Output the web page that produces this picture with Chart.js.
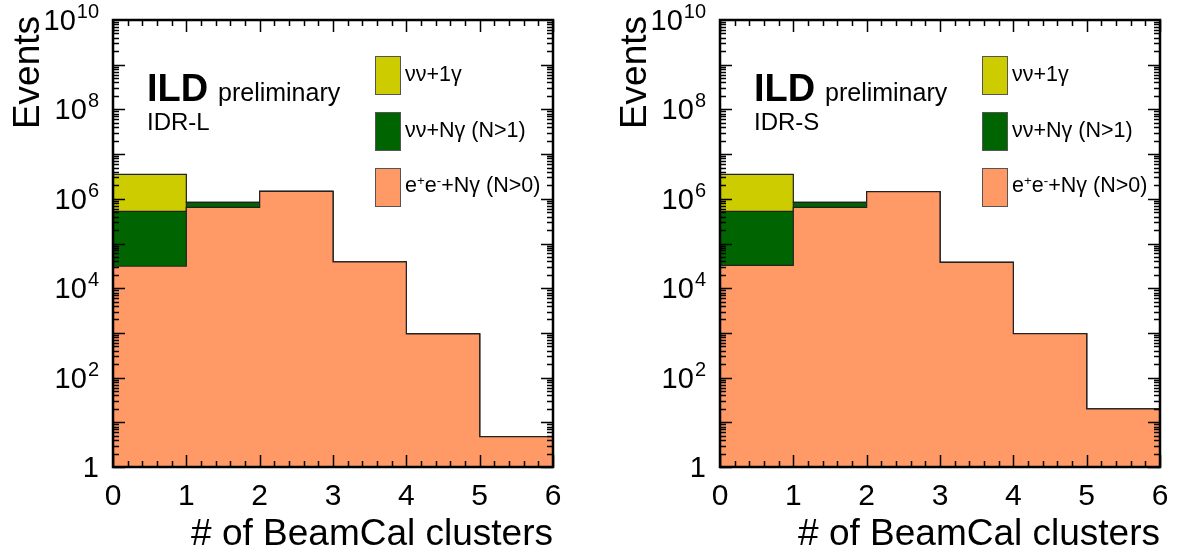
<!DOCTYPE html>
<html>
<head>
<meta charset="utf-8">
<script src="https://cdn.jsdelivr.net/npm/chart.js@4.4.0/dist/chart.umd.min.js"></script>
<style>
  html, body { margin:0; padding:0; background:#fff; }
  body { width:1179px; height:552px; overflow:hidden; position:relative; font-family:"Liberation Sans", Arial, Helvetica, sans-serif; }
  canvas { position:absolute; top:0; }
  .panel { position:absolute; top:0; width:572px; height:552px; pointer-events:none; }
  .t { position:absolute; line-height:1; white-space:nowrap; color:#000; }
  .box { position:absolute; width:26px; height:39px; border:1px solid #555; box-sizing:border-box; }
  sup { font-size:0.62em; vertical-align:0.55em; line-height:0; }
</style>
</head>
<body>
<canvas id="cL" width="572" height="552" style="left:0"></canvas>
<canvas id="cS" width="572" height="552" style="left:607px"></canvas>

<div class="panel" style="left:0">
  <div class="t" style="left:147px;top:69px;font-size:38px;font-weight:bold">ILD</div>
  <div class="t" style="left:218px;top:80px;font-size:25px">preliminary</div>
  <div class="t" style="left:147px;top:110px;font-size:24px">IDR-L</div>
  <div class="box" style="left:375px;top:56px;background:#cccc00"></div>
  <div class="box" style="left:375px;top:112px;background:#006400"></div>
  <div class="box" style="left:375px;top:168px;background:#ff9966"></div>
  <div class="t" style="left:405px;top:64px;font-size:21.5px">νν+1γ</div>
  <div class="t" style="left:405px;top:120px;font-size:21.5px">νν+Nγ (N&gt;1)</div>
  <div class="t" style="left:405px;top:175px;font-size:21.5px">e<sup>+</sup>e<sup>-</sup>+Nγ (N&gt;0)</div>
</div>
<div class="panel" style="left:607px">
  <div class="t" style="left:147px;top:69px;font-size:38px;font-weight:bold">ILD</div>
  <div class="t" style="left:218px;top:80px;font-size:25px">preliminary</div>
  <div class="t" style="left:147px;top:110px;font-size:24px">IDR-S</div>
  <div class="box" style="left:375px;top:56px;background:#cccc00"></div>
  <div class="box" style="left:375px;top:112px;background:#006400"></div>
  <div class="box" style="left:375px;top:168px;background:#ff9966"></div>
  <div class="t" style="left:405px;top:64px;font-size:21.5px">νν+1γ</div>
  <div class="t" style="left:405px;top:120px;font-size:21.5px">νν+Nγ (N&gt;1)</div>
  <div class="t" style="left:405px;top:175px;font-size:21.5px">e<sup>+</sup>e<sup>-</sup>+Nγ (N&gt;0)</div>
</div>

<script>
// ---- data ----
const binEdges = [0, 1, 2, 3, 4, 5, 6];
const xTickLabels = ['0', '1', '2', '3', '4', '5', '6'];
const yTickExponents = [0, 2, 4, 6, 8, 10];
const xTitle = '# of BeamCal clusters';
const yTitle = 'Events';

// IDR-L
const eeNgammaL = [3.1e4, 6.4e5, 1.47e6, 3.9e4, 950, 4.8];
const nnNgammaL = [4.94e5, 1.9e5, 0, 0, 0, 0];
const nn1gammaL = [2.98e6, 0, 0, 0, 0, 0];
// IDR-S
const eeNgammaS = [3.25e4, 6.4e5, 1.44e6, 3.8e4, 960, 20];
const nnNgammaS = [4.93e5, 1.9e5, 0, 0, 0, 0];
const nn1gammaS = [2.98e6, 0, 0, 0, 0, 0];

const FONT = '"Liberation Sans", Arial, Helvetica, sans-serif';
const colYellow = '#cccc00', colGreen = '#006400', colOrange = '#ff9966';

function stepPoints(vals) {
  const pts = vals.map((v, i) => ({ x: binEdges[i], y: v }));
  pts.push({ x: binEdges[binEdges.length - 1], y: vals[vals.length - 1] });
  return pts;
}
function cumulate(a, b) { return a.map((v, i) => v + b[i]); }

const frameTicks = {
  id: 'frameTicks',
  afterDraw(chart) {
    const { ctx, chartArea: a, scales: { x, y } } = chart;
    ctx.save();
    ctx.strokeStyle = '#000';
    ctx.lineWidth = 1.5;
    ctx.beginPath();
    for (let k = 0; k <= 30; k++) {
      const v = k / 5;
      const px = Math.round(x.getPixelForValue(v)) + 0.5;
      const L = (k % 5 === 0) ? 12 : 6;
      ctx.moveTo(px, a.bottom); ctx.lineTo(px, a.bottom - L);
      ctx.moveTo(px, a.top); ctx.lineTo(px, a.top + L);
    }
    for (let e = 0; e < 10; e++) {
      for (let m = 1; m < 10; m++) {
        const py = Math.round(y.getPixelForValue(m * Math.pow(10, e))) + 0.5;
        const L = (m === 1) ? 12 : 6;
        ctx.moveTo(a.left, py); ctx.lineTo(a.left + L, py);
        ctx.moveTo(a.right, py); ctx.lineTo(a.right - L, py);
      }
    }
    ctx.stroke();
    ctx.lineWidth = 2.5;
    ctx.strokeRect(a.left, a.top, a.right - a.left, a.bottom - a.top);

    ctx.fillStyle = '#000';
    ctx.font = '30px ' + FONT;
    ctx.textAlign = 'center';
    ctx.textBaseline = 'top';
    xTickLabels.forEach((lab, i) => {
      ctx.fillText(lab, x.getPixelForValue(binEdges[i]), a.bottom + 15);
    });
    const rightEdge = a.left - 14;
    yTickExponents.forEach(e => {
      const py = y.getPixelForValue(Math.pow(10, e));
      ctx.textBaseline = 'middle';
      ctx.textAlign = 'right';
      ctx.font = '29px ' + FONT;
      if (e === 0) {
        ctx.fillText('1', rightEdge, py + 2);
      } else {
        const sup = String(e);
        ctx.font = '20px ' + FONT;
        const sw = ctx.measureText(sup).width;
        ctx.textAlign = 'left';
        ctx.textBaseline = 'alphabetic';
        ctx.fillText(sup, rightEdge - sw, py - 2);
        ctx.font = '29px ' + FONT;
        ctx.textAlign = 'right';
        ctx.textBaseline = 'middle';
        ctx.fillText('10', rightEdge - sw - 1, py + 2);
      }
    });
    ctx.font = '37px ' + FONT;
    ctx.textAlign = 'right';
    ctx.textBaseline = 'alphabetic';
    ctx.fillText(xTitle, a.right, 545);
    ctx.translate(39, a.top - 4);
    ctx.rotate(-Math.PI / 2);
    ctx.fillText(yTitle, 0, 0);
    ctx.restore();
  }
};

function makeChart(id, ee, nnN, nn1) {
  const cumGreen = cumulate(ee, nnN);
  const cumYellow = cumulate(cumGreen, nn1);
  const common = { showLine: true, stepped: true, pointRadius: 0, borderColor: '#222', borderWidth: 1.2, tension: 0 };
  return new Chart(document.getElementById(id), {
    type: 'line',
    data: {
      datasets: [
        Object.assign({ label: 'e+e-+Nγ (N>0)', data: stepPoints(ee), backgroundColor: colOrange, fill: 'start' }, common),
        Object.assign({ label: 'νν+Nγ (N>1)', data: stepPoints(cumGreen), backgroundColor: colGreen, fill: '-1' }, common),
        Object.assign({ label: 'νν+1γ', data: stepPoints(cumYellow), backgroundColor: colYellow, fill: '-1' }, common)
      ]
    },
    options: {
      responsive: false,
      animation: false,
      devicePixelRatio: 1,
      layout: { padding: { left: 113, right: 19, top: 20, bottom: 85 } },
      plugins: { legend: { display: false }, tooltip: { enabled: false } },
      scales: {
        x: { type: 'linear', min: 0, max: 6, display: false },
        y: { type: 'logarithmic', min: 1, max: 1e10, display: false }
      }
    },
    plugins: [frameTicks]
  });
}

makeChart('cL', eeNgammaL, nnNgammaL, nn1gammaL);
makeChart('cS', eeNgammaS, nnNgammaS, nn1gammaS);
</script>
</body>
</html>
